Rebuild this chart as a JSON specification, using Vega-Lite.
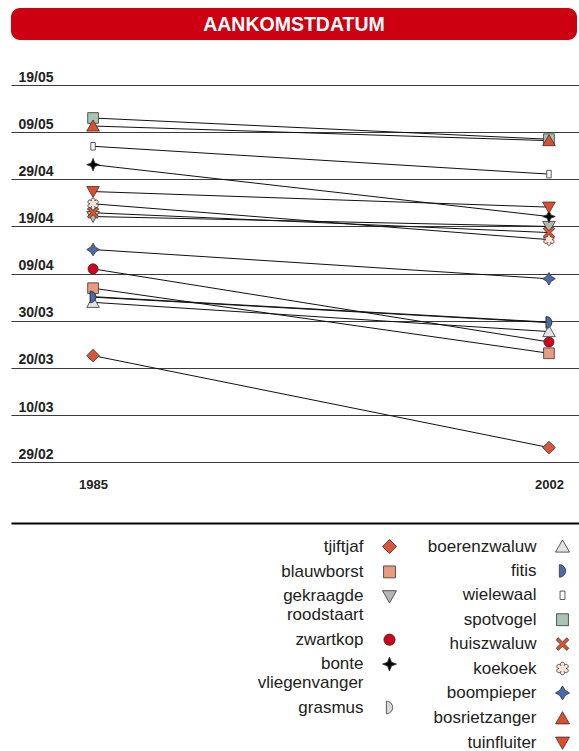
{
  "$schema": "https://vega.github.io/schema/vega-lite/v6.json",
  "padding": {"left": 11, "top": 8, "right": 0, "bottom": 0},
  "bounds": "flush",
  "spacing": 45,
  "background": "white",
  "config": {
    "view": {"stroke": null},
    "font": "Liberation Sans"
  },
  "vconcat": [
    {
      "width": 566,
      "height": 32,
      "view": {"fill": "#cc0011", "stroke": null, "cornerRadius": 9},
      "data": {"values": [{"titel": "AANKOMSTDATUM"}]},
      "mark": {"type": "text", "color": "white", "font": "Liberation Sans", "fontWeight": "bold", "fontSize": 19.5, "baseline": "middle", "align": "center", "dy": 1},
      "encoding": {"text": {"field": "titel"}}
    },
    {
      "width": 568,
      "height": 438,
      "data": {
        "values": [
          {"soort": "tjiftjaf", "jaar": 1985, "dag": 82.6},
          {"soort": "tjiftjaf", "jaar": 2002, "dag": 63.1},
          {"soort": "blauwborst", "jaar": 1985, "dag": 96.9},
          {"soort": "blauwborst", "jaar": 2002, "dag": 83.1},
          {"soort": "gekraagde roodstaart", "jaar": 1985, "dag": 112.1},
          {"soort": "gekraagde roodstaart", "jaar": 2002, "dag": 110.0},
          {"soort": "zwartkop", "jaar": 1985, "dag": 101.0},
          {"soort": "zwartkop", "jaar": 2002, "dag": 85.5},
          {"soort": "bonte vliegenvanger", "jaar": 1985, "dag": 123.1},
          {"soort": "bonte vliegenvanger", "jaar": 2002, "dag": 112.1},
          {"soort": "grasmus", "jaar": 1985, "dag": 95.1},
          {"soort": "grasmus", "jaar": 2002, "dag": 89.7},
          {"soort": "boerenzwaluw", "jaar": 1985, "dag": 93.9},
          {"soort": "boerenzwaluw", "jaar": 2002, "dag": 87.7},
          {"soort": "fitis", "jaar": 1985, "dag": 95.0},
          {"soort": "fitis", "jaar": 2002, "dag": 89.6},
          {"soort": "wielewaal", "jaar": 1985, "dag": 127.0},
          {"soort": "wielewaal", "jaar": 2002, "dag": 121.1},
          {"soort": "spotvogel", "jaar": 1985, "dag": 133.0},
          {"soort": "spotvogel", "jaar": 2002, "dag": 128.5},
          {"soort": "koekoek", "jaar": 1985, "dag": 114.8},
          {"soort": "koekoek", "jaar": 2002, "dag": 107.2},
          {"soort": "huiszwaluw", "jaar": 1985, "dag": 112.9},
          {"soort": "huiszwaluw", "jaar": 2002, "dag": 108.7},
          {"soort": "boompieper", "jaar": 1985, "dag": 105.1},
          {"soort": "boompieper", "jaar": 2002, "dag": 98.9},
          {"soort": "bosrietzanger", "jaar": 1985, "dag": 131.3},
          {"soort": "bosrietzanger", "jaar": 2002, "dag": 128.2},
          {"soort": "tuinfluiter", "jaar": 1985, "dag": 117.4},
          {"soort": "tuinfluiter", "jaar": 2002, "dag": 114.1}
        ]
      },
      "encoding": {
        "x": {
          "field": "jaar", "type": "quantitative",
          "scale": {"domain": [1981.94, 2003.12], "nice": false, "zero": false},
          "axis": {
            "values": [1985, 2002], "format": "d", "title": null,
            "grid": false, "ticks": false, "tickSize": 0,
            "domain": true, "domainColor": "#000000", "domainWidth": 2,
            "labelPadding": -39, "labelBaseline": "middle",
            "labelFont": "Liberation Sans", "labelFontWeight": "bold", "labelFontSize": 13, "labelColor": "#222222",
            "labelFlush": false, "labelOverlap": false
          }
        },
        "y": {
          "field": "dag", "type": "quantitative",
          "scale": {"domain": [47.1, 140], "nice": false, "zero": false},
          "axis": {
            "values": [60, 70, 80, 90, 100, 110, 120, 130, 140],
            "labelExpr": "timeFormat(datetime(2000, 0, datum.value), '%d/%m')",
            "title": null,
            "grid": true, "gridColor": "#3a3a3a", "gridWidth": 1.2,
            "domain": false, "ticks": false, "tickSize": 0,
            "labelAlign": "left", "labelBaseline": "alphabetic", "labelPadding": -7, "labelOffset": -4,
            "labelFont": "Liberation Sans", "labelFontWeight": "bold", "labelFontSize": 14, "labelColor": "#222222",
            "labelFlush": false, "labelOverlap": false, "labelBound": false
          }
        }
      },
      "layer": [
        {
          "mark": {"type": "line", "color": "#111111", "strokeWidth": 1},
          "encoding": {"detail": {"field": "soort"}}
        },
        {
          "name": "grpA",
          "transform": [{"filter": {"field": "soort", "oneOf": ["tjiftjaf", "blauwborst", "gekraagde roodstaart", "zwartkop", "bonte vliegenvanger", "grasmus"]}}],
          "mark": {"type": "point", "filled": true, "size": 160, "strokeWidth": 0.8, "opacity": 1},
          "encoding": {
            "stroke": {"value": "#333333"},
            "shape": {
              "field": "soort", "type": "nominal",
              "scale": {
                "domain": ["tjiftjaf", "blauwborst", "gekraagde roodstaart", "zwartkop", "bonte vliegenvanger", "grasmus"],
                "range": [
                  "M0,-1L1,0L0,1L-1,0Z",
                  "M-0.85,-0.85H0.85V0.85H-0.85Z",
                  "M-1,-0.8H1L0,0.95Z",
                  "M0.8,0A0.8,0.8,0,1,1,-0.8,0A0.8,0.8,0,1,1,0.8,0Z",
                  "M0,-1L0.28,-0.28L1,0L0.28,0.28L0,1L-0.28,0.28L-1,0L-0.28,-0.28Z",
                  "M-0.45,-0.9A0.9,0.9,0,0,1,-0.45,0.9Z"
                ]
              },
              "legend": {
                "title": null, "orient": "none", "legendX": 370, "legendY": 453,
                "columns": 1, "padding": 0, "rowPadding": 6.4,
                "symbolSize": 196, "symbolStrokeWidth": 0.8,
                "labelFont": "Liberation Sans", "labelFontSize": 17, "labelColor": "#222222",
                "labelAlign": "right", "labelOffset": -34.5, "labelLimit": 300,
                "labelExpr": "split(datum.label, ' ')"
              }
            },
            "fill": {
              "field": "soort", "type": "nominal",
              "scale": {
                "domain": ["tjiftjaf", "blauwborst", "gekraagde roodstaart", "zwartkop", "bonte vliegenvanger", "grasmus"],
                "range": ["#d9553a", "#e99a7f", "#b5b5b5", "#d0021b", "#000000", "#d9d9d9"]
              },
              "legend": {
                "title": null, "orient": "none", "legendX": 370, "legendY": 453,
                "columns": 1, "padding": 0, "rowPadding": 6.4,
                "symbolSize": 196, "symbolStrokeWidth": 0.8,
                "labelFont": "Liberation Sans", "labelFontSize": 17, "labelColor": "#222222",
                "labelAlign": "right", "labelOffset": -34.5, "labelLimit": 300,
                "labelExpr": "split(datum.label, ' ')"
              }
            }
          }
        },
        {
          "name": "grpB",
          "transform": [{"filter": {"field": "soort", "oneOf": ["boerenzwaluw", "fitis", "wielewaal", "spotvogel", "huiszwaluw", "koekoek", "boompieper", "bosrietzanger", "tuinfluiter"]}}],
          "mark": {"type": "point", "filled": true, "size": 160, "strokeWidth": 0.8, "opacity": 1},
          "encoding": {
            "stroke": {"value": "#333333"},
            "shape": {
              "field": "soort", "type": "nominal",
              "scale": {
                "domain": ["boerenzwaluw", "fitis", "wielewaal", "spotvogel", "huiszwaluw", "koekoek", "boompieper", "bosrietzanger", "tuinfluiter"],
                "range": [
                  "M0,-0.95L1,0.8H-1Z",
                  "M-0.45,-0.9A0.9,0.9,0,0,1,-0.45,0.9Z",
                  "M-0.35,-0.6H0.35V0.6H-0.35Z",
                  "M-0.85,-0.85H0.85V0.85H-0.85Z",
                  "M-0.9,-0.6L-0.6,-0.9L0,-0.3L0.6,-0.9L0.9,-0.6L0.3,0L0.9,0.6L0.6,0.9L0,0.3L-0.6,0.9L-0.9,0.6L-0.3,0Z",
                  "M0.5,0A0.3,0.3,0,1,1,0.25,0.433A0.3,0.3,0,1,1,-0.25,0.433A0.3,0.3,0,1,1,-0.5,0A0.3,0.3,0,1,1,-0.25,-0.433A0.3,0.3,0,1,1,0.25,-0.433A0.3,0.3,0,1,1,0.5,0Z",
                  "M0,-1L0.38,-0.38L1,0L0.38,0.38L0,1L-0.38,0.38L-1,0L-0.38,-0.38Z",
                  "M0,-0.95L1,0.8H-1Z",
                  "M-1,-0.8H1L0,0.95Z"
                ]
              },
              "legend": {
                "title": null, "orient": "none", "legendX": 543, "legendY": 453,
                "columns": 1, "padding": 0, "rowPadding": 6.4,
                "symbolSize": 196, "symbolStrokeWidth": 0.8,
                "labelFont": "Liberation Sans", "labelFontSize": 17, "labelColor": "#222222",
                "labelAlign": "right", "labelOffset": -34.5, "labelLimit": 300
              }
            },
            "fill": {
              "field": "soort", "type": "nominal",
              "scale": {
                "domain": ["boerenzwaluw", "fitis", "wielewaal", "spotvogel", "huiszwaluw", "koekoek", "boompieper", "bosrietzanger", "tuinfluiter"],
                "range": ["#e3e3e3", "#4a6aa8", "#ffffff", "#a8c4b4", "#e0552f", "#fbe3d8", "#4a6aa8", "#dd4e2c", "#dd4e2c"]
              },
              "legend": {
                "title": null, "orient": "none", "legendX": 543, "legendY": 453,
                "columns": 1, "padding": 0, "rowPadding": 6.4,
                "symbolSize": 196, "symbolStrokeWidth": 0.8,
                "labelFont": "Liberation Sans", "labelFontSize": 17, "labelColor": "#222222",
                "labelAlign": "right", "labelOffset": -34.5, "labelLimit": 300
              }
            }
          }
        }
      ],
      "resolve": {"scale": {"shape": "independent", "fill": "independent"}}
    }
  ]
}
